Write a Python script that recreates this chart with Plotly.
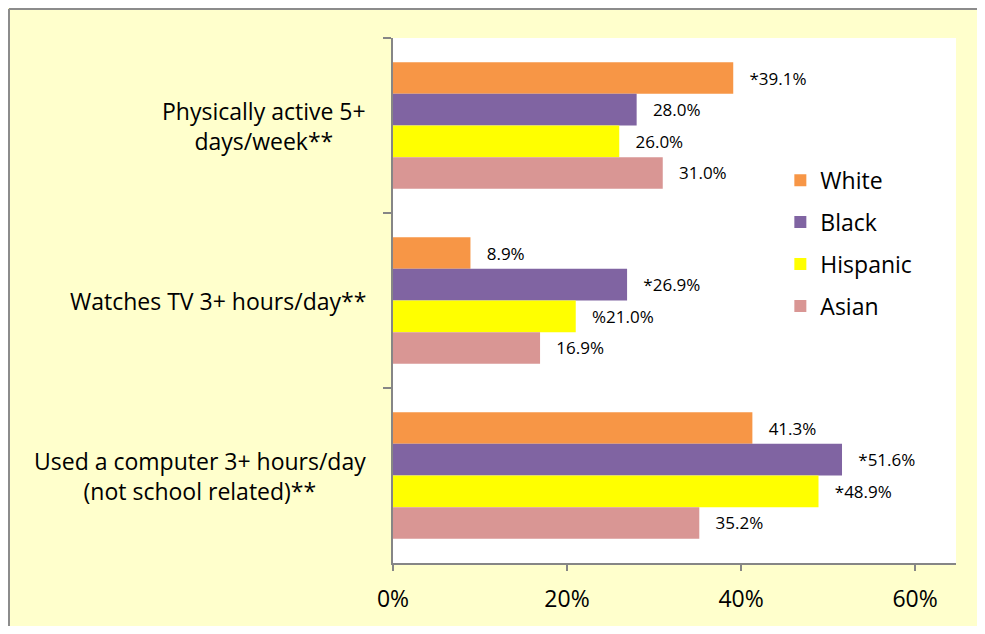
import plotly.graph_objects as go

categories = [
    "Physically active 5+<br>days/week**",
    "Watches TV 3+ hours/day**",
    "Used a computer 3+ hours/day<br>(not school related)**",
]
groups = ["White", "Black", "Hispanic", "Asian"]
colors = ["#F79646", "#8064A2", "#FFFF00", "#D99694"]

# percent values, one list per group (order follows categories)
white = [39.1, 8.9, 41.3]
black = [28.0, 26.9, 51.6]
hispanic = [26.0, 21.0, 48.9]
asian = [31.0, 16.9, 35.2]

white_labels = ["*39.1%", "8.9%", "41.3%"]
black_labels = ["28.0%", "*26.9%", "*51.6%"]
hispanic_labels = ["26.0%", "%21.0%", "*48.9%"]
asian_labels = ["31.0%", "16.9%", "35.2%"]

x_ticks = [0, 20, 40, 60]
x_tick_text = ["0%", "20%", "40%", "60%"]

FONT = "'Open Sans', sans-serif"
PAD = "\u00a0" * 3

series = [white, black, hispanic, asian]
labels = [white_labels, black_labels, hispanic_labels, asian_labels]

fig = go.Figure()
for name, vals, labs, col in zip(groups, series, labels, colors):
    fig.add_trace(go.Bar(
        y=categories,
        x=vals,
        orientation="h",
        name=name,
        legendgroup=name,
        marker=dict(color=col, line=dict(width=0)),
        text=[PAD + t for t in labs],
        textposition="outside",
        textfont=dict(family=FONT, size=17, color="black"),
        constraintext="none",
        cliponaxis=False,
    ))

# category labels as centred annotations (tick labels would be right-aligned)
for cat in categories:
    fig.add_annotation(
        xref="paper", yref="y",
        x=-0.045, y=cat,
        xanchor="right", yanchor="middle",
        text=cat,
        showarrow=False,
        font=dict(family=FONT, size=23, color="black"),
        align="center",
    )

# grey frame: only the left and top edges are visible in the picture
frame = dict(color="#8C8C8C", width=2)
fig.add_shape(type="line", xref="paper", yref="paper",
              x0=-384 / 563, x1=-384 / 563, y0=-0.2, y1=1 + 29 / 527,
              line=frame, layer="below")
fig.add_shape(type="line", xref="paper", yref="paper",
              x0=-384 / 563, x1=1.1, y0=1 + 29 / 527, y1=1 + 29 / 527,
              line=frame, layer="below")

# page has an 8px body margin, so the figure is kept small enough not to overflow
fig.update_layout(
    width=977, height=618,
    margin=dict(l=385, r=29, t=30, b=61),
    paper_bgcolor="#FFFFCC",
    plot_bgcolor="white",
    barmode="group",
    bargap=0.277,
    bargroupgap=0,
    font=dict(family=FONT, size=20, color="black"),
    showlegend=True,
    legend=dict(
        x=0.688, y=0.77, xanchor="left", yanchor="top",
        traceorder="grouped", tracegroupgap=9,
        bgcolor="rgba(0,0,0,0)",
        font=dict(family=FONT, size=23, color="black"),
    ),
    xaxis=dict(
        range=[0, 64.7],
        tickvals=x_ticks,
        ticktext=x_tick_text,
        ticks="outside", ticklen=6, tickcolor="#868686", tickwidth=2,
        showline=True, linecolor="#868686", linewidth=2,
        showgrid=False, zeroline=False,
        tickfont=dict(family=FONT, size=23),
        ticklabelstandoff=8,
    ),
    yaxis=dict(
        autorange="reversed",
        showticklabels=False,
        ticks="outside", tickson="boundaries", ticklen=8,
        tickcolor="#868686", tickwidth=2,
        showline=True, linecolor="#868686", linewidth=2,
        showgrid=False, zeroline=False,
    ),
)

fig.write_html("out.html")
